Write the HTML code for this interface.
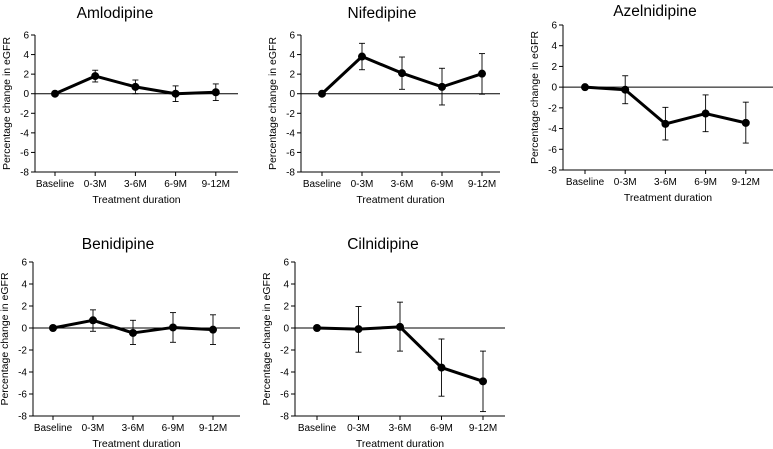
<!DOCTYPE html>
<html><head><meta charset="utf-8"><style>
body{margin:0;background:#fff;}
svg{display:block;font-family:"Liberation Sans",Arial,sans-serif;}
</style></head><body>
<svg id="chart" width="773" height="449" viewBox="0 0 773 449" xmlns="http://www.w3.org/2000/svg"></svg>
<script>
const categories = ["Baseline","0-3M","3-6M","6-9M","9-12M"];
const yTicks = [6,4,2,0,-2,-4,-6,-8];
const drugs = ["Amlodipine","Nifedipine","Azelnidipine","Benidipine","Cilnidipine"];
const amlodipineMean = [0,1.8,0.7,0,0.15];
const amlodipineLow = [0,1.2,0,-0.8,-0.7];
const amlodipineHigh = [0,2.4,1.4,0.8,1.0];
const nifedipineMean = [0,3.8,2.1,0.7,2.05];
const nifedipineLow = [0,2.45,0.45,-1.15,-0.05];
const nifedipineHigh = [0,5.15,3.75,2.6,4.1];
const azelnidipineMean = [0,-0.25,-3.55,-2.55,-3.45];
const azelnidipineLow = [0,-1.6,-5.1,-4.3,-5.4];
const azelnidipineHigh = [0,1.1,-1.95,-0.75,-1.45];
const benidipineMean = [0,0.7,-0.45,0.05,-0.15];
const benidipineLow = [0,-0.3,-1.5,-1.3,-1.5];
const benidipineHigh = [0,1.65,0.7,1.4,1.2];
const cilnidipineMean = [0,-0.1,0.1,-3.6,-4.85];
const cilnidipineLow = [0,-2.2,-2.1,-6.2,-7.6];
const cilnidipineHigh = [0,1.95,2.35,-1.0,-2.1];

const seriesMean=[amlodipineMean,nifedipineMean,azelnidipineMean,benidipineMean,cilnidipineMean];
const seriesLow=[amlodipineLow,nifedipineLow,azelnidipineLow,benidipineLow,cilnidipineLow];
const seriesHigh=[amlodipineHigh,nifedipineHigh,azelnidipineHigh,benidipineHigh,cilnidipineHigh];
// layout: axisX, firstPointX, step, endX, yTop(6), yBottom(-8), titleX, titleY
const layouts=[
 [35,55,40.2,238,35,172,115,18],
 [301,322,40,500,35,172,382,18],
 [563,585,40.2,773,25,170,655,16],
 [33,53,40,240,262,416,118,249],
 [295,317,41.5,505,262,416,383,249]
];
const svg=document.getElementById('chart');
const NS='http://www.w3.org/2000/svg';
function mk(tag,attrs,parent,text){const e=document.createElementNS(NS,tag);for(const k in attrs)e.setAttribute(k,attrs[k]);if(text!==undefined)e.textContent=text;parent.appendChild(e);return e;}
drugs.forEach((drug,p)=>{
 const [ax,x0,step,ex,yt,yb,tx,ty]=layouts[p];
 const g=mk('g',{},svg);
 
 
 const y=v=>yt+(6-v)*(yb-yt)/14;
 const x=i=>x0+i*step;
 const t=mk('text',{x:tx,y:ty,'text-anchor':'middle','font-size':'15.5','fill':'#000'},g,drug);
 
 
 const ya=mk('line',{x1:ax,y1:yt,x2:ax,y2:yb,stroke:'#000','stroke-width':1},g);
 
 
 const xa=mk('line',{x1:ax,y1:yb,x2:ex,y2:yb,stroke:'#000','stroke-width':1},g);
 
 
 const zl=mk('line',{x1:ax,y1:y(0),x2:ex,y2:y(0),stroke:'#000','stroke-width':1},g);
 
 
 yTicks.forEach(v=>{
  mk('line',{x1:ax-4,y1:y(v),x2:ax,y2:y(v),stroke:'#000'},g);
  const l=mk('text',{x:ax-6,y:y(v)+3.5,'text-anchor':'end','font-size':'10'},g,String(v));
  
  
 });
 categories.forEach((c,i)=>{
  mk('line',{x1:x(i),y1:yb,x2:x(i),y2:yb+4,stroke:'#000'},g);
  const l=mk('text',{x:x(i),y:yb+15,'text-anchor':'middle','font-size':'10'},g,c);
  
  
 });
 const xt=mk('text',{x:(ax+ex)/2,y:yb+31,'text-anchor':'middle','font-size':'10.5'},g,'Treatment duration');
 
 
 const cy=(yt+yb)/2;
 const yl=mk('text',{x:0,y:0,'text-anchor':'middle','font-size':'10.5',transform:`translate(${ax-25},${cy}) rotate(-90)`},g,'Percentage change in eGFR');
 
 
 const m=seriesMean[p],lo=seriesLow[p],hi=seriesHigh[p];
 m.forEach((v,i)=>{
  if(i===0)return;
  const eb=mk('g',{stroke:'#000','stroke-width':0.9},g);
  
  
  mk('line',{x1:x(i),y1:y(lo[i]),x2:x(i),y2:y(hi[i])},eb);
  mk('line',{x1:x(i)-3,y1:y(lo[i]),x2:x(i)+3,y2:y(lo[i])},eb);
  mk('line',{x1:x(i)-3,y1:y(hi[i]),x2:x(i)+3,y2:y(hi[i])},eb);
 });
 const ln=mk('polyline',{points:m.map((v,i)=>x(i)+','+y(v)).join(' '),fill:'none',stroke:'#000','stroke-width':3,'stroke-linejoin':'round'},g);
 
 
 m.forEach((v,i)=>{
  const c=mk('circle',{cx:x(i),cy:y(v),r:4,fill:'#000'},g);
  
  
 });
});
</script>
</body></html>
